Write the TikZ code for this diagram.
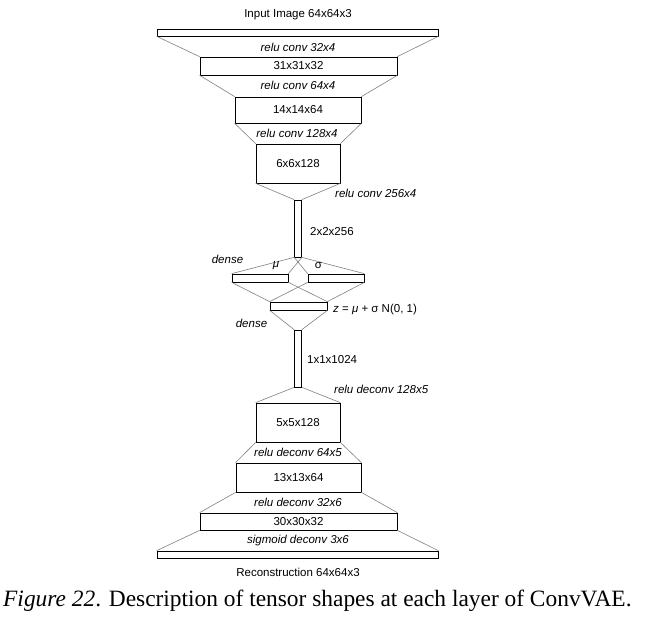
\documentclass[tikz,border=0pt]{standalone}
\usepackage{fontspec}
\setmainfont{Liberation Sans}
\newfontfamily\capfont{Liberation Serif}
\begin{document}
\begin{tikzpicture}[x=1pt,y=-1pt,
  lay/.style={draw=black,line width=0.7pt,rectangle,inner sep=0pt,fill=white},
  lbl/.style={inner sep=0pt,font=\fontsize{11.5}{13}\selectfont},
  ilbl/.style={lbl,font=\fontsize{11.5}{13}\selectfont\itshape},
  conn/.style={draw=black!50,line width=0.6pt}]
\useasboundingbox (0,0) rectangle (650,620);
% layers
\node[lay,minimum width=281pt,minimum height=7pt] (in) at (297.5,32.5) {};
\node[lay,minimum width=197pt,minimum height=18pt,lbl] (c1) at (298.5,66) {31x31x32};
\node[lay,minimum width=126pt,minimum height=26pt,lbl] (c2) at (298,110) {14x14x64};
\node[lay,minimum width=84pt,minimum height=39pt,lbl] (c3) at (298,163.5) {6x6x128};
\node[lay,minimum width=7pt,minimum height=57pt] (c4) at (298,228.5) {};
\node[lay,minimum width=56pt,minimum height=8pt] (mu) at (260,278) {};
\node[lay,minimum width=56pt,minimum height=8pt] (sg) at (336,278) {};
\node[lay,minimum width=57pt,minimum height=8pt] (z) at (298.5,306) {};
\node[lay,minimum width=7pt,minimum height=57pt] (d1) at (298,358.5) {};
\node[lay,minimum width=84pt,minimum height=39pt,lbl] (d2) at (298,422.5) {5x5x128};
\node[lay,minimum width=125pt,minimum height=29pt,lbl] (d3) at (298.5,477.5) {13x13x64};
\node[lay,minimum width=197pt,minimum height=17pt,lbl] (d4) at (298.5,521.5) {30x30x32};
\node[lay,minimum width=281pt,minimum height=7pt] (out) at (297.5,554.5) {};
% connectors
\draw[conn] (in.south west) -- (c1.north west) (in.south east) -- (c1.north east);
\draw[conn] (c1.south west) -- (c2.north west) (c1.south east) -- (c2.north east);
\draw[conn] (c2.south west) -- (c3.north west) (c2.south east) -- (c3.north east);
\draw[conn] (c3.south west) -- (c4.north west) (c3.south east) -- (c4.north east);
\draw[conn] (c4.south west) -- (mu.north west) (c4.south east) -- (mu.north east);
\draw[conn] (c4.south west) -- (sg.north west) (c4.south east) -- (sg.north east);
\draw[conn] (mu.south west) -- (z.north west) (mu.south east) -- (z.north east);
\draw[conn] (sg.south west) -- (z.north west) (sg.south east) -- (z.north east);
\draw[conn] (z.south west) -- (d1.north west) (z.south east) -- (d1.north east);
\draw[conn] (d1.south west) -- (d2.north west) (d1.south east) -- (d2.north east);
\draw[conn] (d2.south west) -- (d3.north west) (d2.south east) -- (d3.north east);
\draw[conn] (d3.south west) -- (d4.north west) (d3.south east) -- (d4.north east);
\draw[conn] (d4.south west) -- (out.north west) (d4.south east) -- (out.north east);
% labels
\node[lbl] (tin) at (298,15) {Input Image 64x64x3};
\node[ilbl] (l1) at (298,47) {relu conv 32x4};
\node[ilbl] (l2) at (298,85.5) {relu conv 64x4};
\node[ilbl] (l3) at (297,133) {relu conv 128x4};
\node[ilbl,anchor=west] (l4) at (335,193) {relu conv 256x4};
\node[lbl,anchor=west] (t4) at (310,232) {2x2x256};
\node[ilbl] (ld1) at (227.5,259.5) {dense};
\node[ilbl] (tmu) at (276,266) {μ};
\node[lbl] (tsg) at (318.5,266) {σ};
\node[lbl,anchor=west] (tz) at (333,309.5) {\textit{z} = \textit{μ} + σ N(0, 1)};
\node[ilbl] (ld2) at (251.5,323) {dense};
\node[lbl,anchor=west] (td1) at (307,360) {1x1x1024};
\node[ilbl,anchor=west] (ld3) at (334,389.5) {relu deconv 128x5};
\node[ilbl] (ld4) at (298,452.5) {relu deconv 64x5};
\node[ilbl] (ld5) at (298,502.5) {relu deconv 32x6};
\node[ilbl] (ld6) at (298,541) {sigmoid deconv 3x6};
\node[lbl] (tout) at (298,572) {Reconstruction 64x64x3};
\node[inner sep=0pt,anchor=west,font=\capfont\fontsize{23.4}{27}\selectfont] (cap) at (3,601) {\textit{Figure 22}. Description of tensor shapes at each layer of ConvVAE.};
\end{tikzpicture}
\end{document}
